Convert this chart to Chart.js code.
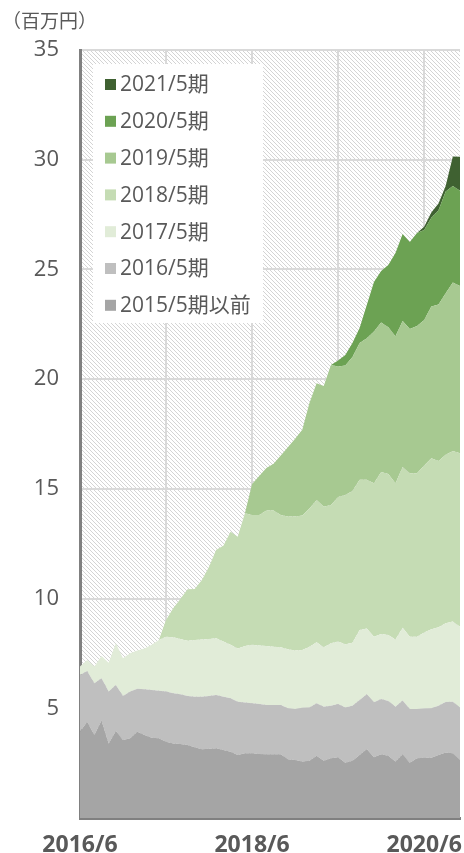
<!DOCTYPE html>
<html><head><meta charset="utf-8">
<script src="https://cdn.jsdelivr.net/npm/chart.js@4/dist/chart.umd.min.js"></script>
<style>html,body{margin:0;padding:0;background:#fff;}#wrap{width:464px;height:853px;position:relative;}</style>
</head><body><div id="wrap"><canvas id="c" width="464" height="853"></canvas></div>
<script>
const months = ['2016/6','2016/7','2016/8','2016/9','2016/10','2016/11','2016/12',
'2017/1','2017/2','2017/3','2017/4','2017/5','2017/6','2017/7','2017/8','2017/9','2017/10','2017/11','2017/12',
'2018/1','2018/2','2018/3','2018/4','2018/5','2018/6','2018/7','2018/8','2018/9','2018/10','2018/11','2018/12',
'2019/1','2019/2','2019/3','2019/4','2019/5','2019/6','2019/7','2019/8','2019/9','2019/10','2019/11','2019/12',
'2020/1','2020/2','2020/3','2020/4','2020/5','2020/6','2020/7','2020/8','2020/9','2020/10','2020/11'];
const tickLabels = ['2016/6','2018/6','2020/6'];
const gridMonths = ['2016/6','2017/6','2018/6','2019/6','2020/6'];
const yTicks = [5,10,15,20,25,30,35];
const unitLabel = '（百万円）';

const seriesNames = ['2015/5期以前','2016/5期','2017/5期','2018/5期','2019/5期','2020/5期','2021/5期'];
const s2015 = [3.93,4.39,3.78,4.44,3.40,3.97,3.56,3.63,3.93,3.78,3.66,3.63,
3.48,3.40,3.37,3.33,3.22,3.13,3.16,3.18,3.10,3.02,2.87,2.95,
2.95,2.92,2.90,2.90,2.90,2.68,2.64,2.57,2.61,2.84,2.61,2.72,
2.77,2.52,2.61,2.87,3.14,2.77,2.90,2.84,2.57,2.90,2.52,2.72,
2.75,2.75,2.87,2.98,2.95,2.64];
const s2016 = [2.59,2.31,2.36,1.93,2.36,2.09,2.00,2.13,1.96,2.09,2.17,2.17,
2.28,2.28,2.27,2.23,2.31,2.40,2.40,2.43,2.43,2.44,2.43,2.31,
2.28,2.28,2.25,2.25,2.25,2.32,2.33,2.46,2.43,2.39,2.46,2.40,
2.43,2.52,2.51,2.51,2.50,2.50,2.52,2.49,2.50,2.45,2.45,2.25,
2.24,2.25,2.25,2.31,2.35,2.40];
const s2017 = [0.38,0.50,0.76,1.01,1.32,1.90,1.72,1.75,1.74,1.86,2.06,2.31,
2.50,2.56,2.52,2.52,2.58,2.61,2.60,2.58,2.51,2.43,2.43,2.58,
2.66,2.66,2.69,2.66,2.63,2.69,2.66,2.63,2.77,2.78,2.71,2.84,
2.84,2.88,2.87,3.19,3.00,2.99,2.97,3.01,3.07,3.32,3.29,3.29,
3.46,3.60,3.57,3.58,3.65,3.68];
const s2018 = [0,0,0,0,0,0,0,0,0,0,0,0,
0.76,1.32,1.82,2.34,2.33,2.71,3.29,4.03,4.37,5.16,5.09,6.05,
5.92,5.95,6.17,6.20,6.03,6.05,6.11,6.13,6.30,6.48,6.41,6.31,
6.59,6.80,6.91,6.84,6.77,7.00,7.38,7.34,7.12,7.33,7.45,7.45,
7.62,7.79,7.58,7.68,7.78,7.90];
const s2019 = [0,0,0,0,0,0,0,0,0,0,0,0,
0,0,0,0,0,0,0,0,0,0,0,0,
1.41,1.78,1.94,2.13,2.71,3.16,3.54,3.90,4.80,5.32,5.50,6.38,
5.95,5.90,6.11,6.24,6.45,6.91,6.81,6.68,6.69,6.65,6.58,6.71,
6.63,6.92,7.13,7.36,7.67,7.63];
const s2020 = [0,0,0,0,0,0,0,0,0,0,0,0,
0,0,0,0,0,0,0,0,0,0,0,0,
0,0,0,0,0,0,0,0,0,0,0,0,
0.27,0.48,0.64,0.68,1.52,2.26,2.35,2.84,3.80,3.97,3.96,4.24,
4.10,4.04,4.30,4.64,4.40,4.33];
const s2021 = [0,0,0,0,0,0,0,0,0,0,0,0,
0,0,0,0,0,0,0,0,0,0,0,0,
0,0,0,0,0,0,0,0,0,0,0,0,
0,0,0,0,0,0,0,0,0,0,0,0,
0.15,0.25,0.30,0.25,1.35,1.55];

const seriesData = [s2015,s2016,s2017,s2018,s2019,s2020,s2021];
const colors = ['#a5a5a5','#bfbfbf','#e1ecd8','#c5dcb4','#a7c991','#6ca253','#3f6131'];

const FONT = "'Open Sans','Noto Sans CJK JP',sans-serif";
const TXT = '#595959';

const hatchPlugin = {
  id: 'hatch',
  beforeDraw(chart) {
    const {ctx, chartArea: a} = chart;
    const t = document.createElement('canvas');
    t.width = 4; t.height = 4;
    const tc = t.getContext('2d');
    tc.fillStyle = '#ffffff'; tc.fillRect(0, 0, 4, 4);
    tc.fillStyle = '#d4d4d4';
    for (let k = 0; k < 4; k++) tc.fillRect(k, k, 1, 1);
    ctx.save();
    ctx.fillStyle = ctx.createPattern(t, 'repeat');
    ctx.fillRect(a.left, a.top, a.right - a.left, a.bottom - a.top);
    ctx.restore();
  },
  afterDraw(chart) {
    const {ctx, chartArea: a} = chart;
    ctx.save();
    // unit label
    ctx.fillStyle = TXT;
    ctx.font = "19px " + FONT;
    ctx.textBaseline = 'middle';
    ctx.textAlign = 'left';
    ctx.fillText(unitLabel, 2, 23);
    // legend box
    ctx.fillStyle = '#ffffff';
    ctx.fillRect(93, 64, 170, 259);
    const ds = chart.data.datasets;
    const n = ds.length;
    ctx.font = "21px " + FONT;
    for (let j = 0; j < n; j++) {
      const d = ds[n - 1 - j];
      const cy = 84.5 + j * 36.8;
      ctx.fillStyle = d.backgroundColor;
      ctx.fillRect(105, cy - 5.5, 11, 11);
      ctx.fillStyle = TXT;
      ctx.fillText(d.label, 120, cy + 1);
    }
    ctx.restore();
  }
};

const datasets = seriesData.map((arr, i) => ({
  label: seriesNames[i],
  data: arr,
  backgroundColor: colors[i],
  borderColor: 'rgba(0,0,0,0)',
  borderWidth: 0,
  pointRadius: 0,
  pointHoverRadius: 0,
  tension: 0,
  fill: i === 0 ? 'origin' : '-1'
}));

new Chart(document.getElementById('c'), {
  type: 'line',
  data: { labels: months, datasets },
  options: {
    responsive: false,
    animation: false,
    devicePixelRatio: 1,
    layout: { padding: { top: 50, right: 4, left: 0, bottom: 0 } },
    plugins: { legend: { display: false }, tooltip: { enabled: false }, title: { display: false } },
    scales: {
      x: {
        type: 'category',
        offset: false,
        grid: {
          color: c => (gridMonths.includes(months[c.index]) ? '#d9d9d9' : 'rgba(0,0,0,0)'),
          lineWidth: 2,
          drawTicks: true,
          tickLength: 14,
          tickColor: 'rgba(0,0,0,0)'
        },
        border: { display: true, color: '#808080', width: 3 },
        ticks: {
          autoSkip: false, maxRotation: 0, minRotation: 0, padding: 0,
          color: TXT, font: { family: FONT, size: 23, weight: 'bold' },
          callback: (v, i) => (tickLabels.includes(months[i]) ? months[i] : '')
        },
        afterFit: s => { s.height = 35; }
      },
      y: {
        stacked: true,
        min: 0, max: 35,
        afterBuildTicks: s => { s.ticks = [0].concat(yTicks).map(v => ({ value: v })); },
        grid: { color: '#d9d9d9', lineWidth: 2, drawTicks: false },
        border: { display: true, color: '#808080', width: 3 },
        ticks: {
          padding: 21, color: TXT, font: { family: FONT, size: 22 },
          callback: v => (v === 0 ? '' : v)
        },
        afterFit: s => { s.width = 80; }
      }
    }
  },
  plugins: [hatchPlugin]
});
</script>
</body></html>
